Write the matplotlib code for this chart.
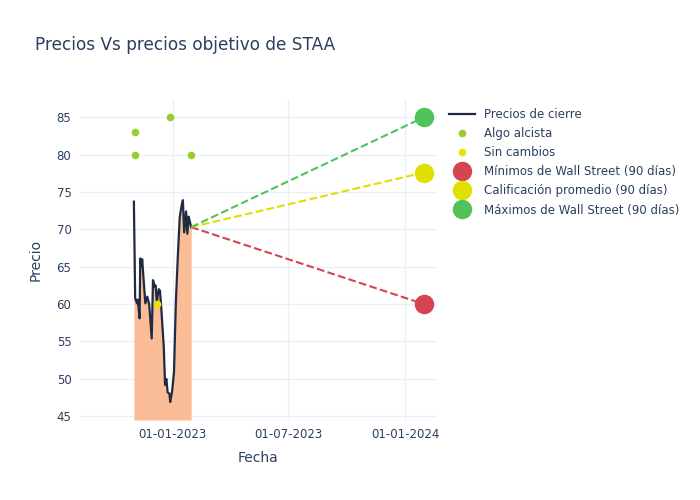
import numpy as np
import pandas as pd
import matplotlib.pyplot as plt
import matplotlib.dates as mdates

# Precios de cierre de STAA
fechas = ['2022-11-01', '2022-11-03', '2022-11-06', '2022-11-07', '2022-11-10',
          '2022-11-11', '2022-11-13', '2022-11-14', '2022-11-16', '2022-11-19',
          '2022-11-22', '2022-11-25', '2022-11-29', '2022-12-01', '2022-12-04',
          '2022-12-05', '2022-12-07', '2022-12-10', '2022-12-12', '2022-12-14',
          '2022-12-18', '2022-12-20', '2022-12-22', '2022-12-24', '2022-12-27',
          '2022-12-28', '2022-12-31', '2023-01-03', '2023-01-06', '2023-01-09',
          '2023-01-12', '2023-01-15', '2023-01-17', '2023-01-19', '2023-01-22',
          '2023-01-24', '2023-01-26', '2023-01-28', '2023-01-30']
precios = [73.7, 60.8, 60.1, 60.6, 58.1,
           66.1, 65.0, 66.0, 63.6, 60.1,
           61.0, 60.0, 55.4, 63.2, 62.3,
           62.5, 60.3, 62.0, 61.8, 59.5,
           54.2, 49.2, 50.0, 48.2, 48.0,
           46.9, 48.3, 50.9, 60.4, 66.3,
           71.6, 73.2, 73.9, 69.6, 72.4,
           69.4, 71.7, 71.0, 70.3]

# Recomendaciones de analistas
alcista_fechas = ['2022-11-02', '2022-11-02', '2022-12-27', '2023-01-29']
alcista_precios = [83, 80, 85, 80]
sin_cambios_fechas = ['2022-12-07']
sin_cambios_precios = [60]

# Objetivos (90 días)
fecha_objetivo = '2024-01-31'
objetivo_min = 60
objetivo_prom = 77.6
objetivo_max = 85

fechas = pd.to_datetime(fechas)
fecha_obj = pd.Timestamp(fecha_objetivo)

plt.rcParams['font.family'] = 'DejaVu Sans'
texto = '#2a3f5f'

fig = plt.figure(figsize=(7, 5), dpi=100)
ax = fig.add_axes([0.114, 0.16, 0.51, 0.64])

ymin, ymax = 44.5, 87.3
ax.fill_between(fechas, precios, ymin, color='#fbbd97', linewidth=0)
ax.plot(fechas, precios, color='#1f2a44', linewidth=1.6, label='Precios de cierre')

ax.plot(pd.to_datetime(alcista_fechas), alcista_precios, 'o', color='#9acd32',
        markersize=4.5, linestyle='none', label='Algo alcista')
ax.plot(pd.to_datetime(sin_cambios_fechas), sin_cambios_precios, 'o', color='#e5e500',
        markersize=4.5, linestyle='none', label='Sin cambios')

inicio = fechas[-1]
ultimo = precios[-1]
colores = ['#d6444f', '#dfe000', '#4fc35a']
valores = [objetivo_min, objetivo_prom, objetivo_max]
etiquetas = ['Mínimos de Wall Street (90 días)', 'Calificación promedio (90 días)',
             'Máximos de Wall Street (90 días)']
for v, c, et in zip(valores, colores, etiquetas):
    ax.plot([inicio, fecha_obj], [ultimo, v], '--', color=c, linewidth=1.5)
    ax.plot([fecha_obj], [v], 'o', color=c, markersize=13, linestyle='none', label=et)

ax.set_xlim(pd.Timestamp('2022-08-08'), pd.Timestamp('2024-02-20'))
ax.set_ylim(ymin, ymax)
ax.set_yticks(np.arange(45, 86, 5))
ax.set_xticks(pd.to_datetime(['2023-01-01', '2023-07-01', '2024-01-01']))
ax.xaxis.set_major_formatter(mdates.DateFormatter('%d-%m-%Y'))

ax.grid(True, color='#ebf0f8', linewidth=1)
ax.set_axisbelow(True)
for s in ax.spines.values():
    s.set_visible(False)
ax.tick_params(length=0, colors=texto, labelsize=8.5, pad=6)

ax.set_xlabel('Fecha', color=texto, fontsize=10, labelpad=7)
ax.set_ylabel('Precio', color=texto, fontsize=10, labelpad=10)
fig.text(0.05, 0.91, 'Precios Vs precios objetivo de STAA', color=texto, fontsize=12.2,
         va='center')

leg = ax.legend(loc='upper left', bbox_to_anchor=(1.02, 0.99), frameon=False,
                fontsize=8.5, labelcolor=texto, handlelength=2.2, borderaxespad=0,
                labelspacing=0.52)

fig.savefig('out.png', dpi=100)
